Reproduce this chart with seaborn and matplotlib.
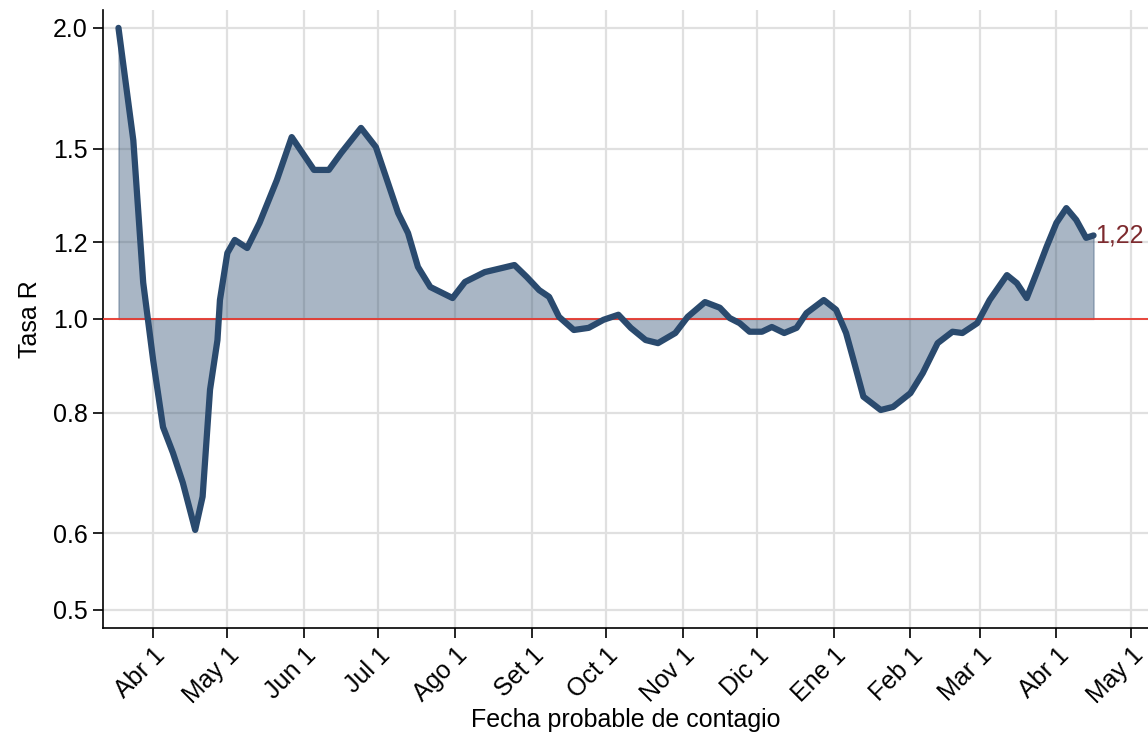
import pandas as pd
import numpy as np
import seaborn as sns
import matplotlib.pyplot as plt
import matplotlib.dates as mdates

fechas = ['2020-03-18', '2020-03-24', '2020-03-28', '2020-04-01', '2020-04-05', '2020-04-09',
          '2020-04-13', '2020-04-18', '2020-04-21', '2020-04-24', '2020-04-27', '2020-04-28',
          '2020-05-01', '2020-05-04', '2020-05-09', '2020-05-14', '2020-05-21', '2020-05-27',
          '2020-06-05', '2020-06-11', '2020-06-16', '2020-06-24', '2020-06-30', '2020-07-09',
          '2020-07-13', '2020-07-17', '2020-07-22', '2020-07-31', '2020-08-05', '2020-08-13',
          '2020-08-20', '2020-08-25', '2020-08-30', '2020-09-04', '2020-09-08', '2020-09-12',
          '2020-09-18', '2020-09-24', '2020-09-30', '2020-10-06', '2020-10-11', '2020-10-17',
          '2020-10-22', '2020-10-29', '2020-11-03', '2020-11-10', '2020-11-16', '2020-11-20',
          '2020-11-24', '2020-11-28', '2020-12-03', '2020-12-07', '2020-12-12', '2020-12-17',
          '2020-12-21', '2020-12-28', '2021-01-02', '2021-01-06', '2021-01-09', '2021-01-13',
          '2021-01-20', '2021-01-25', '2021-02-01', '2021-02-06', '2021-02-12', '2021-02-18',
          '2021-02-22', '2021-02-28', '2021-03-05', '2021-03-12', '2021-03-16', '2021-03-20',
          '2021-03-24', '2021-03-28', '2021-04-01', '2021-04-05', '2021-04-09', '2021-04-13',
          '2021-04-16']
tasa_r = [2.00, 1.53, 1.09, 0.907, 0.773, 0.727,
          0.677, 0.605, 0.655, 0.845, 0.951, 1.046,
          1.17, 1.207, 1.184, 1.257, 1.392, 1.542,
          1.426, 1.426, 1.485, 1.576, 1.506, 1.287,
          1.227, 1.132, 1.079, 1.051, 1.092, 1.118,
          1.129, 1.137, 1.105, 1.071, 1.054, 1.005,
          0.974, 0.979, 0.998, 1.010, 0.979, 0.951,
          0.944, 0.967, 1.005, 1.041, 1.027, 1.002,
          0.990, 0.970, 0.970, 0.981, 0.967, 0.979,
          1.014, 1.046, 1.022, 0.967, 0.907, 0.831,
          0.805, 0.811, 0.838, 0.879, 0.944, 0.970,
          0.967, 0.990, 1.046, 1.110, 1.089, 1.051,
          1.116, 1.187, 1.257, 1.302, 1.266, 1.213,
          1.22]

tick_fechas = ['2020-04-01', '2020-05-01', '2020-06-01', '2020-07-01', '2020-08-01', '2020-09-01',
               '2020-10-01', '2020-11-01', '2020-12-01', '2021-01-01', '2021-02-01', '2021-03-01',
               '2021-04-01', '2021-05-01']
tick_labels = ['Abr 1', 'May 1', 'Jun 1', 'Jul 1', 'Ago 1', 'Set 1', 'Oct 1', 'Nov 1',
               'Dic 1', 'Ene 1', 'Feb 1', 'Mar 1', 'Abr 1', 'May 1']
y_ticks = [0.5, 0.6, 0.8, 1.0, 1.2, 1.5, 2.0]

df = pd.DataFrame({'fecha': pd.to_datetime(fechas), 'r': tasa_r})

sns.set_style('white')
plt.rcParams['font.family'] = ['Liberation Sans', 'DejaVu Sans']
plt.rcParams['text.color'] = 'black'
plt.rcParams['axes.labelcolor'] = 'black'
plt.rcParams['xtick.color'] = 'black'
plt.rcParams['ytick.color'] = 'black'

fig = plt.figure(figsize=(11.48, 7.32), dpi=100)
ax = fig.add_axes([103 / 1148, 104 / 732, 1045 / 1148, 618 / 732])

linea = '#2a4a6e'
ax.fill_between(df['fecha'], 1.0, df['r'], color=linea, alpha=0.4, linewidth=1.0, zorder=2)
ax.axhline(1.0, color='#e8392f', linewidth=1.3, zorder=3)
sns.lineplot(data=df, x='fecha', y='r', ax=ax, color=linea, linewidth=4.5, zorder=4,
             solid_joinstyle='round', solid_capstyle='round')

ax.set_yscale('log')
ax.set_ylim(0.479, 2.087)
ax.set_xlim(pd.Timestamp('2020-03-11 18:00'), pd.Timestamp('2021-05-08'))

ax.yaxis.set_major_locator(plt.FixedLocator(y_ticks))
ax.yaxis.set_minor_locator(plt.NullLocator())
ax.set_yticklabels([f'{v:.1f}' for v in y_ticks])

ax.set_xticks(mdates.date2num(pd.to_datetime(tick_fechas)))
ax.set_xticklabels(tick_labels, rotation=45, ha='right', rotation_mode='anchor')

ax.grid(True, color='#e0e0e0', linewidth=1.6, zorder=0)
ax.set_axisbelow(True)
for s in ['top', 'right']:
    ax.spines[s].set_visible(False)
for s in ['left', 'bottom']:
    ax.spines[s].set_color('black')
    ax.spines[s].set_linewidth(1.2)
ax.tick_params(axis='both', which='major', direction='out', length=7, width=1.2,
               labelsize=18, color='black', labelcolor='black', left=True, bottom=True, pad=4)

ax.set_xlabel('Fecha probable de contagio', fontsize=18, labelpad=0)
ax.set_ylabel('Tasa R', fontsize=18, labelpad=8)

ultimo = df.iloc[-1]
ax.text(ultimo['fecha'] + pd.Timedelta(days=0.5), ultimo['r'], f"{ultimo['r']:.2f}".replace('.', ','),
        color='#7d2a2e', fontsize=18, va='center', ha='left')

fig.savefig('out.png', dpi=100)
